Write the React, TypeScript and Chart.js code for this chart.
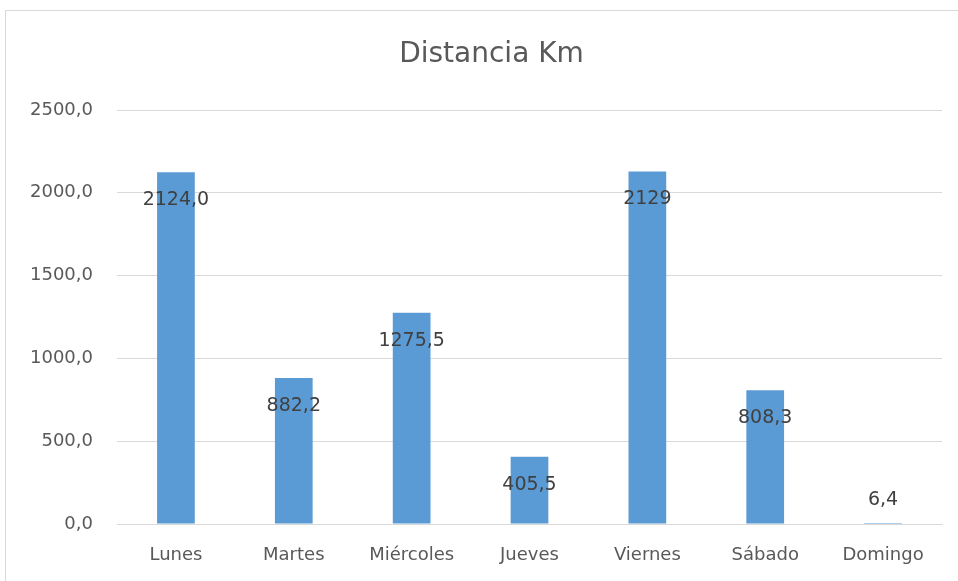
import React, { useEffect, useRef } from "react";
import { Chart, registerables } from "chart.js";

Chart.register(...registerables);

const categories = ["Lunes", "Martes", "Miércoles", "Jueves", "Viernes", "Sábado", "Domingo"];
const distances = [2124.0, 882.2, 1275.5, 405.5, 2129, 808.3, 6.4];
const valueLabels = ["2124,0", "882,2", "1275,5", "405,5", "2129", "808,3", "6,4"];
const yTicks = [0, 500, 1000, 1500, 2000, 2500];
const titleText = "Distancia Km";

const FONT = "'DejaVu Sans', sans-serif";

const frame = {
  id: "frame",
  beforeDraw(chart: any) {
    const ctx = chart.ctx;
    ctx.save();
    ctx.fillStyle = "#ffffff";
    ctx.fillRect(0, 0, chart.width, chart.height);
    ctx.strokeStyle = "#d9d9d9";
    ctx.lineWidth = 1;
    ctx.strokeRect(5.5, 10.5, chart.width + 20, chart.height + 20);
    // title
    ctx.font = `28px ${FONT}`;
    ctx.fillStyle = "#595959";
    ctx.textAlign = "center";
    ctx.textBaseline = "middle";
    const ca = chart.chartArea;
    ctx.fillText(titleText, (ca.left + ca.right) / 2 - 38, ca.top - 55);
    ctx.restore();
  },
};

const barLabels = {
  id: "barLabels",
  afterDatasetsDraw(chart: any) {
    const ctx = chart.ctx;
    const meta = chart.getDatasetMeta(0);
    const base = chart.scales.y.getPixelForValue(0);
    ctx.save();
    ctx.font = `19px ${FONT}`;
    ctx.fillStyle = "#404040";
    ctx.textAlign = "center";
    ctx.textBaseline = "middle";
    meta.data.forEach((bar: any, i: number) => {
      const y = Math.min(bar.y + 28, base - 24);
      ctx.fillText(valueLabels[i], bar.x, y);
    });
    ctx.restore();
  },
};

export default function App() {
  const ref = useRef<HTMLCanvasElement>(null);
  useEffect(() => {
    document.body.style.margin = "0";
    const chart = new Chart(ref.current!, {
      type: "bar",
      data: {
        labels: categories,
        datasets: [
          {
            data: distances,
            backgroundColor: "#5B9BD5",
            barPercentage: 0.32,
            categoryPercentage: 1,
          },
        ],
      },
      options: {
        animation: false,
        responsive: false,
        layout: { padding: { left: 10, right: 16, top: 110, bottom: 17 } },
        plugins: {
          legend: { display: false },
          tooltip: { enabled: false },
          title: { display: false },
        },
        scales: {
          x: {
            grid: { display: false, drawTicks: false },
            border: { color: "#d9d9d9", width: 1 },
            ticks: { color: "#595959", font: { family: FONT, size: 18 }, padding: 21 },
            afterFit(scale: any) {
              scale.height = 40;
            },
          },
          y: {
            min: 0,
            max: 2500,
            afterBuildTicks(scale: any) {
              scale.ticks = yTicks.map((v) => ({ value: v }));
            },
            grid: { color: "#d9d9d9", drawTicks: false },
            border: { display: false },
            ticks: {
              color: "#595959",
              font: { family: FONT, size: 18 },
              padding: 24,
              callback: (v: any) => Number(v).toFixed(1).replace(".", ","),
            },
            afterFit(scale: any) {
              scale.width = 107;
            },
          },
        },
      },
      plugins: [frame, barLabels],
    });
    return () => chart.destroy();
  }, []);
  return <canvas ref={ref} width={958} height={581} style={{ display: "block" }} />;
}
